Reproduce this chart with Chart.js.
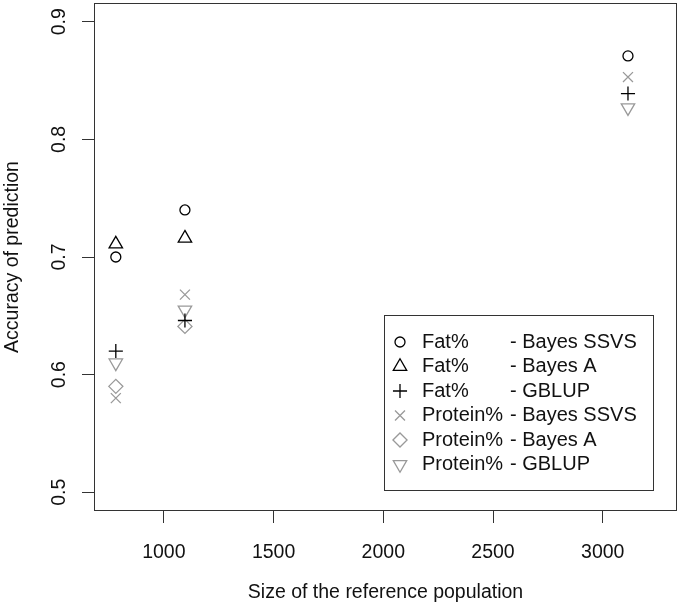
<!DOCTYPE html>
<html>
<head>
<meta charset="utf-8">
<title>Accuracy of prediction vs size of the reference population</title>
<script src="https://cdn.jsdelivr.net/npm/chart.js@4/dist/chart.umd.min.js"></script>
<style>
  html, body { margin: 0; padding: 0; background: #fff; }
  #wrap { width: 680px; height: 615px; }
</style>
</head>
<body>
<div id="wrap"><canvas id="chart" width="680" height="615"></canvas></div>
<script>
// ───────────────────────────────────────────────────────────────────
//  Accuracy of genomic prediction vs size of the reference population.
//  R base-graphics look: open symbols, boxed plot, outward ticks.
// ───────────────────────────────────────────────────────────────────

// Values.
const refSizes   = [781, 1096, 3115];
const fatSSVS    = [0.700, 0.740, 0.871];
const fatBayesA  = [0.711, 0.716, null];
const fatGBLUP   = [0.620, 0.646, 0.839];
const protSSVS   = [0.580, 0.668, 0.853];
const protBayesA = [0.590, 0.641, null];
const protGBLUP  = [0.610, 0.655, 0.827];

const traitNames  = ['Fat%', 'Fat%', 'Fat%', 'Protein%', 'Protein%', 'Protein%'];
const methodNames = ['Bayes SSVS', 'Bayes A', 'GBLUP', 'Bayes SSVS', 'Bayes A', 'GBLUP'];

const xTicks = [1000, 1500, 2000, 2500, 3000];
const yTicks = [0.5, 0.6, 0.7, 0.8, 0.9];
const xLim = [780, 3240];
const yLim = [0.5, 0.9];

const FONT = "'Liberation Sans', Arial, sans-serif";
const INK = '#111';
const AXIS = '#333';
const FAT = '#000';
const PROT = '#999';

// R pads the axis limits by 4% on each side.
const pad = (lim) => [lim[0] - 0.04 * (lim[1] - lim[0]), lim[1] + 0.04 * (lim[1] - lim[0])];
const xRange = pad(xLim);
const yRange = pad(yLim);

const R = 5; // base symbol radius (px)

function series(values, style, color, radius, rotation) {
  return {
    data: refSizes.map((x, i) => ({ x, y: values[i] })),
    pointStyle: style,
    pointRadius: radius,
    pointHoverRadius: radius,
    rotation: rotation || 0,
    borderColor: color,
    backgroundColor: 'rgba(0,0,0,0)',
    borderWidth: 1.3,
    showLine: false,
  };
}

const datasets = [
  series(fatSSVS,    'circle',   FAT,  R),
  series(fatBayesA,  'triangle', FAT,  R * 1.55),
  series(fatGBLUP,   'cross',    FAT,  R * 1.41),
  series(protSSVS,   'crossRot', PROT, R * 1.41),
  series(protBayesA, 'rectRot',  PROT, R * 1.41),
  series(protGBLUP,  'triangle', PROT, R * 1.55, 180),
].map((d, i) => ({ ...d, label: traitNames[i] + ' - ' + methodNames[i] }));

// No auto padding: the plot box is placed exactly like R's.
function noPad(s) {
  s.paddingTop = 0; s.paddingBottom = 0;
  s.paddingLeft = 0; s.paddingRight = 0;
}

// Box around the plot region + R-style legend in the lower right.
const rFrame = {
  id: 'rFrame',
  afterDraw(chart) {
    const { ctx, chartArea: a } = chart;
    ctx.save();
    ctx.strokeStyle = AXIS;
    ctx.lineWidth = 1;
    ctx.strokeRect(Math.round(a.left) + 0.5, Math.round(a.top) + 0.5,
      Math.round(a.right - a.left) - 1, Math.round(a.bottom - a.top) - 1);

    const w = 269, h = 175;
    const left = Math.round(a.right - 24 - w), top = Math.round(a.bottom - 21 - h);
    ctx.strokeRect(left + 0.5, top + 0.5, w, h);
    ctx.font = '20px ' + FONT;
    ctx.textBaseline = 'middle';
    chart.data.datasets.forEach((ds, i) => {
      const y = top + 27 + i * 24.5;
      ctx.strokeStyle = ds.borderColor;
      ctx.fillStyle = 'rgba(0,0,0,0)';
      ctx.lineWidth = ds.borderWidth;
      Chart.helpers.drawPoint(ctx, {
        pointStyle: ds.pointStyle, radius: ds.pointRadius,
        rotation: ds.rotation, borderWidth: ds.borderWidth,
      }, left + 16, y);
      ctx.fillStyle = INK;
      ctx.fillText(traitNames[i], left + 38, y);
      ctx.fillText('- ' + methodNames[i], left + 126, y);
    });
    ctx.restore();
  },
};

new Chart(document.getElementById('chart'), {
  type: 'scatter',
  data: { datasets },
  options: {
    responsive: false,
    animation: false,
    devicePixelRatio: 1,
    layout: { autoPadding: false, padding: { top: 3, right: 3, left: 0, bottom: 0 } },
    plugins: { legend: { display: false }, tooltip: { enabled: false } },
    scales: {
      x: {
        type: 'linear',
        min: xRange[0], max: xRange[1],
        afterBuildTicks: (s) => { s.ticks = xTicks.map((v) => ({ value: v })); },
        afterFit: (s) => { s.height = 104; noPad(s); },
        grid: { drawOnChartArea: false, drawTicks: true, tickLength: 12, tickColor: AXIS, tickWidth: 1 },
        border: { display: false },
        ticks: {
          color: INK, font: { family: FONT, size: 19.5 }, padding: 18,
          maxRotation: 0, autoSkip: false, callback: (v) => String(v),
        },
        title: {
          display: true, text: 'Size of the reference population', color: INK,
          font: { family: FONT, size: 19.5, lineHeight: 1.2 }, padding: { top: 0, bottom: 11 },
        },
      },
      y: {
        type: 'linear',
        min: yRange[0], max: yRange[1],
        afterBuildTicks: (s) => { s.ticks = yTicks.map((v) => ({ value: v })); },
        afterFit: (s) => { s.width = 94; noPad(s); },
        grid: { drawOnChartArea: false, drawTicks: true, tickLength: 12, tickColor: AXIS, tickWidth: 1 },
        border: { display: false },
        ticks: {
          color: INK, font: { family: FONT, size: 19.5 }, padding: 9,
          minRotation: 90, maxRotation: 90, crossAlign: 'center', autoSkip: false,
          callback: (v) => v.toFixed(1),
        },
        title: {
          display: true, text: 'Accuracy of prediction', color: INK,
          font: { family: FONT, size: 19.5, lineHeight: 1.2 }, padding: { top: 1, bottom: 0 },
        },
      },
    },
  },
  plugins: [rFrame],
});
</script>
</body>
</html>
